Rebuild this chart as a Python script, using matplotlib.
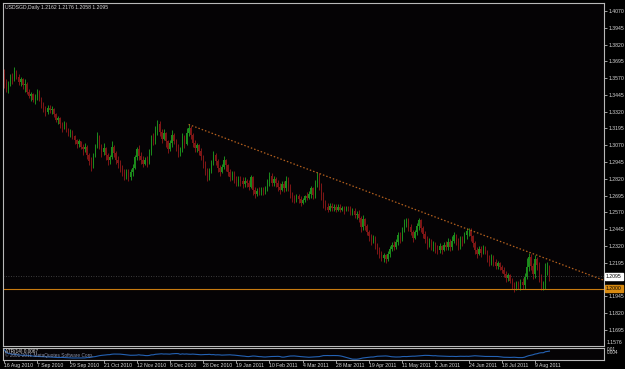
import numpy as np
import pandas as pd
import matplotlib
matplotlib.use("Agg")
import matplotlib.pyplot as plt

plt.rcParams['font.family'] = ['Liberation Sans', 'DejaVu Sans']

# ---------------- data (prices in pips, x 1e-4) ----------------
close_pips = [
13540,13490,13530,13580,13560,13620,13580,13540,13560,13520,
13530,13470,13440,13450,13410,13430,13470,13420,13380,13340,
13320,13350,13330,13340,13300,13260,13270,13230,13210,13230,
13190,13160,13170,13140,13110,13080,13100,13060,13040,13060,
13000,12950,12920,12990,13060,13140,13070,13020,13050,13000,
12960,12980,13060,13010,12960,12940,12900,12870,12840,12870,
12830,12870,12900,12980,13040,12990,12960,12930,12960,12940,
13010,13120,13100,13180,13230,13170,13120,13160,13100,13040,
13090,13150,13100,13060,13010,13040,13130,13080,13160,13200,
13150,13090,13050,13070,13030,12990,12930,12880,12830,12880,
12940,13000,12950,12900,12870,12910,12960,12920,12870,12830,
12860,12820,12790,12820,12800,12780,12800,12790,12760,12830,
12740,12710,12730,12720,12740,12720,12750,12800,12840,12790,
12820,12790,12760,12740,12780,12750,12800,12760,12700,12680,
12660,12690,12670,12640,12660,12690,12680,12710,12750,12700,
12790,12850,12780,12700,12640,12610,12590,12620,12600,12610,
12590,12610,12590,12600,12590,12610,12600,12570,12580,12550,
12560,12530,12460,12520,12470,12420,12390,12360,12380,12330,
12290,12260,12230,12250,12220,12260,12300,12330,12310,12350,
12400,12370,12440,12490,12510,12460,12420,12380,12420,12470,
12510,12450,12410,12370,12330,12360,12320,12340,12300,12290,
12320,12290,12330,12310,12350,12310,12360,12400,12360,12320,
12370,12350,12400,12430,12430,12390,12340,12290,12260,12300,
12270,12310,12280,12230,12190,12240,12200,12170,12190,12160,
12140,12110,12080,12100,12060,12030,12010,12040,12020,12050,
12030,12090,12160,12240,12170,12110,12220,12180,12100,12030,
12040,12160,12162,12095]

high_pips = [
13640,13560,13550,13600,13610,13650,13630,13600,13580,13570,
13560,13540,13490,13470,13460,13450,13490,13480,13430,13390,
13360,13370,13370,13360,13350,13310,13290,13280,13240,13250,
13240,13200,13190,13180,13150,13120,13120,13100,13080,13090,
13070,13010,12980,13010,13080,13170,13150,13080,13090,13060,
13010,13000,13100,13070,13030,12990,12960,12920,12890,12890,
12890,12890,12930,13000,13060,13070,13020,12990,12980,12990,
13040,13150,13160,13210,13260,13250,13190,13190,13170,13110,
13110,13180,13160,13120,13080,13060,13160,13150,13200,13225,
13210,13160,13110,13090,13080,13050,13000,12950,12900,12900,
12960,13030,13010,12970,12920,12930,12990,12970,12930,12890,
12880,12880,12840,12840,12840,12830,12830,12820,12810,12850,
12840,12760,12750,12760,12760,12760,12770,12820,12870,12860,
12840,12830,12810,12790,12800,12800,12840,12830,12780,12720,
12700,12710,12710,12690,12680,12700,12720,12730,12770,12760,
12810,12870,12860,12790,12720,12660,12640,12640,12640,12630,
12630,12630,12630,12620,12620,12620,12620,12620,12600,12600,
12580,12590,12540,12550,12530,12480,12440,12410,12400,12390,
12340,12310,12280,12270,12260,12280,12320,12350,12360,12370,
12420,12420,12460,12520,12530,12530,12480,12440,12440,12490,
12530,12520,12470,12430,12390,12380,12370,12360,12350,12330,
12340,12330,12350,12360,12380,12370,12390,12420,12410,12380,
12390,12390,12420,12450,12450,12450,12400,12360,12310,12320,
12320,12330,12320,12290,12250,12260,12250,12220,12210,12200,
12180,12160,12130,12120,12110,12080,12050,12060,12060,12070,
12080,12120,12230,12270,12260,12190,12250,12240,12200,12110,
12060,12190,12200,12176]

low_pips = [
13500,13470,13460,13510,13530,13550,13560,13520,13510,13490,
13470,13450,13420,13400,13390,13380,13410,13400,13350,13320,
13290,13300,13310,13300,13280,13240,13230,13200,13170,13190,
13170,13140,13130,13120,13080,13050,13060,13040,13000,13020,
12970,12920,12880,12900,12980,13050,13040,12980,13000,12960,
12920,12930,12970,12980,12930,12900,12870,12840,12810,12820,
12800,12810,12840,12890,12960,12960,12930,12910,12920,12910,
12930,13000,13070,13080,13150,13140,13090,13110,13060,13010,
13030,13060,13080,13030,12980,12990,13020,13050,13070,13140,
13120,13060,13020,13020,13000,12960,12900,12850,12800,12810,
12860,12920,12920,12870,12840,12860,12890,12880,12840,12800,
12810,12790,12770,12770,12770,12750,12760,12760,12740,12750,
12700,12680,12690,12700,12700,12700,12710,12730,12770,12770,
12770,12760,12730,12710,12730,12720,12730,12730,12680,12650,
12640,12650,12640,12620,12630,12650,12660,12670,12680,12670,
12680,12760,12740,12660,12600,12590,12570,12580,12580,12580,
12570,12580,12570,12580,12560,12580,12580,12550,12550,12530,
12520,12500,12420,12440,12440,12400,12360,12330,12340,12300,
12260,12230,12210,12200,12190,12210,12240,12280,12290,12300,
12330,12340,12360,12420,12460,12430,12400,12350,12370,12400,
12440,12420,12380,12340,12300,12310,12290,12280,12270,12260,
12270,12260,12280,12290,12290,12280,12290,12340,12330,12290,
12300,12320,12340,12370,12390,12360,12310,12260,12230,12250,
12240,12260,12260,12200,12170,12180,12170,12150,12150,12140,
12120,12090,12050,12060,12040,12000,11980,11990,12000,11990,
12000,12000,12070,12130,12140,12070,12080,12140,12050,11990,
11990,12000,12100,12058]

first_open_pips = 13600

date_labels = ["16 Aug 2010", "7 Sep 2010", "29 Sep 2010", "21 Oct 2010",
               "12 Nov 2010", "6 Dec 2010", "28 Dec 2010", "19 Jan 2011",
               "10 Feb 2011", "4 Mar 2011", "28 Mar 2011", "19 Apr 2011",
               "11 May 2011", "2 Jun 2011", "24 Jun 2011", "18 Jul 2011",
               "9 Aug 2011"]
date_label_bars = [0, 16, 32, 48, 64, 80, 96, 112, 128, 144, 160, 176,
                   192, 208, 224, 240, 256]

price_ticks = [1.4070, 1.3945, 1.3820, 1.3695, 1.3570, 1.3445, 1.3320,
               1.3195, 1.3070, 1.2945, 1.2820, 1.2695, 1.2570, 1.2445,
               1.2320, 1.2195, 1.2070, 1.1945, 1.1820, 1.1695]

trend_bars = [89, 288.8]
trend_prices = [1.3225, 1.2066]
hline_price = 1.2000
bid_price = 1.2095
title_text = "USDSGD,Daily 1.2162 1.2176 1.2058 1.2095"

# ---------------- derived ----------------
C = np.array(close_pips) / 10000.0
H = np.array(high_pips) / 10000.0
L = np.array(low_pips) / 10000.0
O = np.concatenate([[first_open_pips / 10000.0], C[:-1]])
n = len(C)
idx = np.arange(n)

prev_c = np.concatenate([[O[0]], C[:-1]])
tr = np.maximum(H - L, np.maximum(np.abs(H - prev_c), np.abs(L - prev_c)))
atr = pd.Series(tr).rolling(14, min_periods=1).mean().values

# ---------------- figure ----------------
W, Hpx = 625, 369
fig = plt.figure(figsize=(W / 100, Hpx / 100), dpi=100, facecolor="#000000")
bg = "#050305"
frame = "#b8b8b8"
txt = "#d8d8d8"
fs = 3.7

def fx(px):
    return px / W

def fy(py):
    return 1 - py / Hpx

ax = fig.add_axes([fx(3), fy(346), fx(604) - fx(3), fy(3) - fy(346)], facecolor=bg)
axs = fig.add_axes([fx(3), fy(360), fx(604) - fx(3), fy(348) - fy(360)], facecolor=bg)

x0 = (3 - 4) / 2.074
x1 = (604 - 4) / 2.074

green = "#1c8c1c"
red = "#7e1616"
cols = np.where(C >= O, green, red)

ax.vlines(idx, L, H, colors=cols, linewidth=0.7)
body_h = C - O
body_h = np.where(np.abs(body_h) < 0.00005, 0.00005, body_h)
ax.bar(idx, body_h, bottom=O, width=0.55, color=cols, linewidth=0)

# trendline
slope = (trend_prices[1] - trend_prices[0]) / (trend_bars[1] - trend_bars[0])
tx = np.array([trend_bars[0], x1])
ty = trend_prices[0] + slope * (tx - trend_bars[0])
ax.plot(tx, ty, color="#b4601e", linestyle=(0, (1.2, 1.6)), linewidth=0.9)

# horizontal lines
ax.axhline(hline_price, color="#c87a10", linewidth=0.8)
ax.axhline(bid_price, color="#505050", linestyle=(0, (1, 2)), linewidth=0.6)

ax.set_xlim(x0, x1)
ax.set_ylim(1.1574, 1.4130)
ax.set_xticks([])
ax.yaxis.tick_right()
ax.set_yticks(price_ticks)
ax.set_yticklabels([f"{p:.4f}" for p in price_ticks])
ax.tick_params(axis="y", colors=frame, labelcolor=txt, labelsize=fs,
               length=2, width=0.6, pad=1)
for s in ax.spines.values():
    s.set_color(frame)
    s.set_linewidth(0.8)

ax.text(0.003, 0.993, title_text, transform=ax.transAxes, color=txt,
        fontsize=fs, va="top", ha="left")

# price boxes
ax.annotate("1.2095", xy=(1.0, bid_price), xycoords=("axes fraction", "data"),
            xytext=(1.5, 0), textcoords="offset points", fontsize=fs, color="black",
            va="center", ha="left", annotation_clip=False,
            bbox=dict(boxstyle="square,pad=0.2", fc="white", ec="white"))
ax.annotate("1.2000", xy=(1.0, hline_price), xycoords=("axes fraction", "data"),
            xytext=(1.5, 0), textcoords="offset points", fontsize=fs, color="black",
            va="center", ha="left", annotation_clip=False,
            bbox=dict(boxstyle="square,pad=0.2", fc="#d88a10", ec="#d88a10"))
fig.text(fx(607), fy(342), "1.1576", color=txt, fontsize=fs, va="center", ha="left")

# ATR subwindow
axs.plot(idx, atr, color="#2462b4", linewidth=0.8)
axs.set_xlim(x0, x1)
lo, hi = np.nanmin(atr), np.nanmax(atr)
axs.set_ylim(lo - 0.08 * (hi - lo), hi + 0.15 * (hi - lo))
axs.set_yticks([])
axs.set_xticks(date_label_bars)
axs.set_xticklabels(date_labels, ha="left")
axs.tick_params(axis="x", colors=frame, labelcolor=txt, labelsize=fs,
                length=2, width=0.6, pad=0.5)
for s in axs.spines.values():
    s.set_color(frame)
    s.set_linewidth(0.8)
axs.text(0.003, 0.95, "ATR(14) 0.0067", transform=axs.transAxes, color=txt,
         fontsize=3.4, va="top", ha="left")
axs.text(0.003, 0.40, "\u00a9 2001-2011 MetaQuotes Software Corp.", transform=axs.transAxes,
         color="#8890a8", fontsize=3.4, va="center", ha="left")
fig.text(fx(607), fy(349.5), "0.01", color=txt, fontsize=3.4, va="center", ha="left")
fig.text(fx(607), fy(353), "0.004", color=txt, fontsize=3.4, va="center", ha="left")

fig.savefig("out.png", dpi=100, facecolor="#000000")
